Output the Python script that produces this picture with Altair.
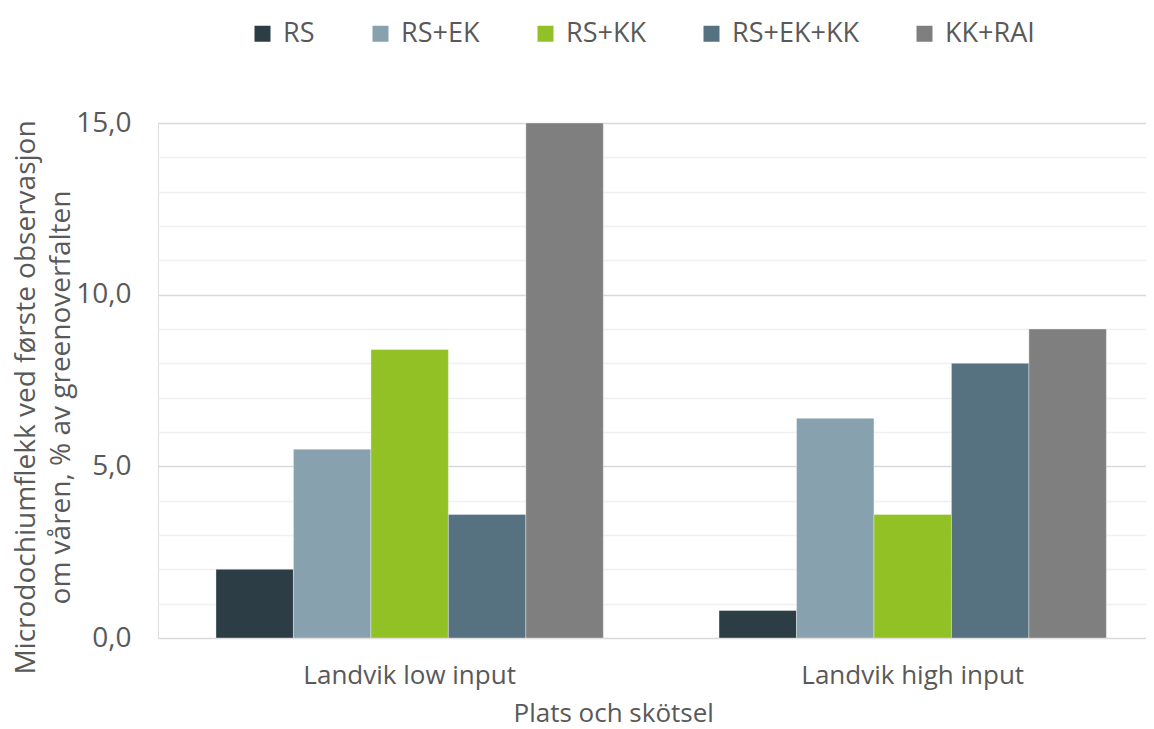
import altair as alt
import pandas as pd

groups = ["Landvik low input", "Landvik high input"]
treatments = ["RS", "RS+EK", "RS+KK", "RS+EK+KK", "KK+RAI"]
low_values = [2.0, 5.5, 8.4, 3.6, 15.0]
high_values = [0.8, 6.4, 3.6, 8.0, 9.0]
colors = ["#2D3D45", "#87A2AE", "#92C125", "#56717F", "#7F7F7F"]
y_ticks = list(range(0, 16))

rows = []
for g, vals in zip(groups, [low_values, high_values]):
    for t, v in zip(treatments, vals):
        rows.append({"group": g, "treatment": t, "value": v})
df = pd.DataFrame(rows)

FONT = "Open Sans"
TXT = "#595959"

chart = alt.Chart(df).mark_bar(stroke="#ffffff", strokeWidth=0.6, strokeOpacity=0.6).encode(
    x=alt.X("group:N", sort=groups,
            scale=alt.Scale(paddingInner=0.23, paddingOuter=0.097, align=0.594),
            axis=alt.Axis(title="Plats och skötsel", labelAngle=0, ticks=False, tickSize=0,
                          domain=False, labelPadding=24, titlePadding=12, labelLimit=500,
                          labelFontSize=26, titleFontSize=26, labelColor=TXT, titleColor=TXT,
                          labelFont=FONT, titleFont=FONT, titleFontWeight="normal",
                          titleAnchor="start", titleX=355)),
    xOffset=alt.XOffset("treatment:N", sort=treatments,
                        scale=alt.Scale(paddingInner=0, paddingOuter=0)),
    y=alt.Y("value:Q", scale=alt.Scale(domain=[0, 15], nice=False),
            axis=alt.Axis(title=["Microdochiumflekk ved første observasjon",
                                 "om våren, % av greenoverfalten"],
                          values=y_ticks, ticks=False, tickSize=0, domain=False,
                          labelExpr="datum.value % 5 === 0 ? replace(format(datum.value, '.1f'), '.', ',') : ''",
                          gridColor={"condition": {"test": "datum.value % 5 === 0", "value": "#d9d9d9"},
                                     "value": "#f0f0f0"},
                          gridWidth=1.6,
                          labelPadding=27, titlePadding=0, titleY=274,
                          labelFontSize=28, titleFontSize=28, labelColor=TXT, titleColor=TXT,
                          labelFont=FONT, titleFont=FONT, titleFontWeight="normal",
                          titleLineHeight=35)),
    color=alt.Color("treatment:N", sort=treatments,
                    scale=alt.Scale(domain=treatments, range=colors),
                    legend=alt.Legend(title=None, orient="none", direction="horizontal",
                                      legendX=91, legendY=-103,
                                      symbolType="square", symbolSize=256,
                                      symbolStrokeWidth=0, labelOffset=7,
                                      columnPadding=52, labelFontSize=27,
                                      labelColor=TXT, labelFont=FONT)),
).properties(
    width=988, height=515,
    padding={"left": 4, "top": 12, "right": 0, "bottom": 0},
).configure_view(stroke=None).configure(background="white")

chart.save("out.html", embed_options={"renderer": "svg", "actions": False})
